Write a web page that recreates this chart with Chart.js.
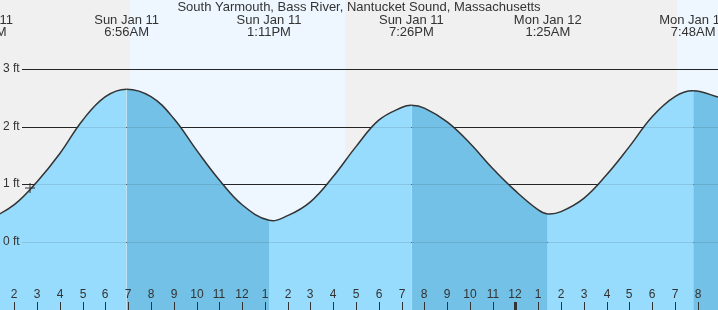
<!DOCTYPE html>
<html>
<head>
<meta charset="utf-8">
<script src="https://cdn.jsdelivr.net/npm/chart.js@4/dist/chart.umd.min.js"></script>
<style>
  html, body { margin: 0; padding: 0; background: #f0f0f0; }
  #wrap { width: 718px; height: 310px; position: relative; }
</style>
</head>
<body>
<div id="wrap"><canvas id="tideChart"></canvas></div>
<script>
const chartTitle = "South Yarmouth, Bass River, Nantucket Sound, Massachusetts";

// hours since Sun Jan 11 00:00, water level in feet
const tideHours = [0.52, 1, 2, 3, 4, 5, 6, 6.93, 8, 9, 10, 11, 12, 13.18, 14, 15, 16, 17, 18, 19, 19.43,
  20, 21, 22, 23, 24, 25, 25.42, 26, 27, 28, 29, 30, 31, 31.8, 33];
const tideFeet = [0.36, 0.41, 0.64, 1.04, 1.53, 2.11, 2.52, 2.65, 2.52, 2.14, 1.59, 1.07, 0.64, 0.37, 0.45, 0.69, 1.13, 1.65, 2.11, 2.33, 2.37,
  2.32, 2.08, 1.71, 1.27, 0.88, 0.55, 0.48, 0.52, 0.75, 1.16, 1.65, 2.17, 2.52, 2.62, 2.50];

// high / low labels across the top
const extremeHours = [0.52, 6.93, 13.18, 19.43, 25.42, 31.8];
const extremeDays = ["Sun Jan 11", "Sun Jan 11", "Sun Jan 11", "Sun Jan 11", "Mon Jan 12", "Mon Jan 12"];
const extremeTimes = ["12:31AM", "6:56AM", "1:11PM", "7:26PM", "1:25AM", "7:48AM"];

// daylight bands
const dayStarts = [7.08, 31.09];
const dayEnds = [16.52, 40];

const feetTicks = [0, 1, 2, 3];
const feetLabels = ["0 ft", "1 ft", "2 ft", "3 ft"];

const hourTicks = [2, 3, 4, 5, 6, 7, 8, 9, 10, 11, 12, 13, 14, 15, 16, 17, 18, 19, 20, 21, 22, 23, 24, 25, 26, 27, 28, 29, 30, 31, 32];
const hourLabels = ["2", "3", "4", "5", "6", "7", "8", "9", "10", "11", "12", "1", "2", "3", "4", "5", "6", "7", "8", "9", "10", "11", "12", "1", "2", "3", "4", "5", "6", "7", "8"];
const midnightHour = 24;

const markerPoint = [{ x: 2.69, y: 0.93 }];

const LIGHT_FILL = "#97dcfc";
const DARK_FILL = "#73c1e6";
const TEXT = "#333";
const FONT = "Liberation Sans, Arial, sans-serif";

const backdrop = {
  id: "backdrop",
  beforeDraw(chart) {
    const { ctx, chartArea, scales } = chart;
    ctx.save();
    ctx.fillStyle = "#f0f0f0";
    ctx.fillRect(0, 0, chart.width, chart.height);
    ctx.fillStyle = "#eef7ff";
    dayStarts.forEach((start, i) => {
      const x0 = Math.max(scales.x.getPixelForValue(start), chartArea.left);
      const x1 = Math.min(scales.x.getPixelForValue(dayEnds[i]), chartArea.right);
      ctx.fillRect(x0, 0, x1 - x0, chart.height);
    });
    ctx.restore();
  },
  beforeDatasetsDraw(chart) {
    const { ctx, chartArea, scales } = chart;
    ctx.save();
    ctx.strokeStyle = "#2a2a2a";
    ctx.lineWidth = 1;
    feetTicks.forEach((ft) => {
      const y = Math.round(scales.y.getPixelForValue(ft)) + 0.5;
      ctx.beginPath();
      ctx.moveTo(22, y);
      ctx.lineTo(chartArea.right, y);
      ctx.stroke();
    });
    ctx.restore();
  },
  afterDatasetsDraw(chart) {
    const { ctx, chartArea, scales } = chart;
    ctx.save();
    // faint grid over the water
    ctx.strokeStyle = "rgba(0,0,0,0.1)";
    feetTicks.forEach((ft) => {
      const y = Math.round(scales.y.getPixelForValue(ft)) + 0.5;
      ctx.beginPath();
      ctx.moveTo(22, y);
      ctx.lineTo(chartArea.right, y);
      ctx.stroke();
    });

    ctx.fillStyle = TEXT;
    ctx.font = "12px " + FONT;
    ctx.textAlign = "left";
    ctx.textBaseline = "middle";
    feetTicks.forEach((ft, i) => {
      ctx.fillText(feetLabels[i], 3, scales.y.getPixelForValue(ft));
    });

    // hour ticks along the bottom
    ctx.textAlign = "center";
    hourTicks.forEach((h, i) => {
      const x = Math.round(scales.x.getPixelForValue(h));
      ctx.fillText(hourLabels[i], x, 295);
      if (h === midnightHour) {
        ctx.fillRect(x - 1, 302, 3, 8);
      } else {
        ctx.fillRect(x, 302, 1, 8);
      }
    });

    // title and high/low labels
    ctx.font = "13px " + FONT;
    ctx.fillText(chartTitle, chart.width / 2, 7);
    extremeHours.forEach((h, i) => {
      const x = scales.x.getPixelForValue(h);
      ctx.fillText(extremeDays[i], x, 20);
      ctx.fillText(extremeTimes[i], x, 32);
    });
    ctx.restore();
  }
};

new Chart(document.getElementById("tideChart"), {
  type: "line",
  data: {
    datasets: [
      {
        data: tideHours.map((h, i) => ({ x: h, y: tideFeet[i] })),
        borderColor: "#333",
        borderWidth: 1.5,
        backgroundColor: LIGHT_FILL,
        fill: "start",
        pointRadius: 0,
        tension: 0.4,
        segment: {
          backgroundColor: (c) => (c.p1.parsed.y < c.p0.parsed.y ? DARK_FILL : LIGHT_FILL)
        },
        order: 2
      },
      {
        type: "scatter",
        data: markerPoint,
        pointStyle: "cross",
        pointRadius: 5,
        borderColor: "#333",
        borderWidth: 1,
        order: 1
      }
    ]
  },
  options: {
    responsive: true,
    maintainAspectRatio: false,
    animation: false,
    layout: { padding: 0, autoPadding: false },
    plugins: { legend: { display: false }, tooltip: { enabled: false } },
    scales: {
      x: { type: "linear", min: 1.372, max: 32.891, display: false },
      y: { min: -1.191, max: 4.2, display: false }
    }
  },
  plugins: [backdrop]
});
</script>
</body>
</html>
